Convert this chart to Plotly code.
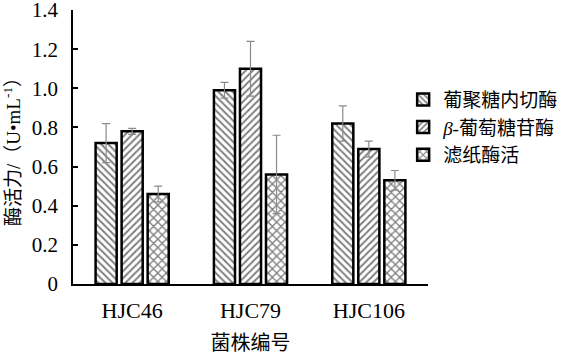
import plotly.graph_objects as go

categories = ["HJC46", "HJC79", "HJC106"]
series_names = ["葡聚糖内切酶", "<i>β</i>-葡萄糖苷酶", "滤纸酶活"]
endo = [0.72, 0.99, 0.82]
endo_err = [0.10, 0.04, 0.09]
bglu = [0.78, 1.10, 0.69]
bglu_err = [0.015, 0.14, 0.04]
fpa = [0.46, 0.56, 0.53]
fpa_err = [0.04, 0.20, 0.05]
ytick_vals = [0, 0.2, 0.4, 0.6, 0.8, 1.0, 1.2, 1.4]
ytick_text = ["0", "0.2", "0.4", "0.6", "0.8", "1.0", "1.2", "1.4"]

FONT = "Liberation Serif, 'Times New Roman', 'Noto Sans CJK SC', serif"
values = [endo, bglu, fpa]
errors = [endo_err, bglu_err, fpa_err]
shapes = ["\\", "/", "x"]
sizes = [5, 5, 6]

fig = go.Figure()
for name, v, e, sh, sz in zip(series_names, values, errors, shapes, sizes):
    fig.add_trace(go.Bar(
        x=categories, y=v, name=name,
        marker=dict(color="white", line=dict(color="black", width=2.5),
                    pattern=dict(shape=sh, fgcolor="black", bgcolor="white",
                                 size=sz, solidity=0.4)),
        error_y=dict(type="data", array=e, visible=True, color="#8a8a8a",
                     thickness=1.2, width=4),
    ))

fig.update_layout(
    width=576, height=356,
    margin=dict(l=73, r=148, t=10, b=72, autoexpand=False),
    paper_bgcolor="white", plot_bgcolor="white",
    barmode="group", bargap=0.34, bargroupgap=0.19,
    font=dict(family=FONT, size=21, color="black"),
    showlegend=True,
    legend=dict(x=0.93, xanchor="left", y=0.571, yanchor="middle",
                font=dict(family=FONT, size=19), bgcolor="rgba(0,0,0,0)",
                tracegroupgap=0),
    xaxis=dict(showline=True, linecolor="black", linewidth=1.5, ticks="",
               ticklabelstandoff=6, tickfont=dict(size=22), automargin=False,
               title=dict(text="菌株编号", font=dict(size=20), standoff=14)),
    yaxis=dict(range=[0, 1.4001], showline=True, linecolor="black", linewidth=1.5,
               ticks="inside", ticklen=5, tickcolor="black", tickwidth=1.5,
               tickvals=ytick_vals, ticktext=ytick_text, showgrid=False,
               zeroline=False, ticklabelstandoff=9, tickfont=dict(size=21),
               ticklabeloverflow="allow", automargin=False,
               title=dict(text="酶活力/（U•mL<sup>-1</sup>）", font=dict(size=19),
                          standoff=8)),
)

fig.write_html("out.html")
